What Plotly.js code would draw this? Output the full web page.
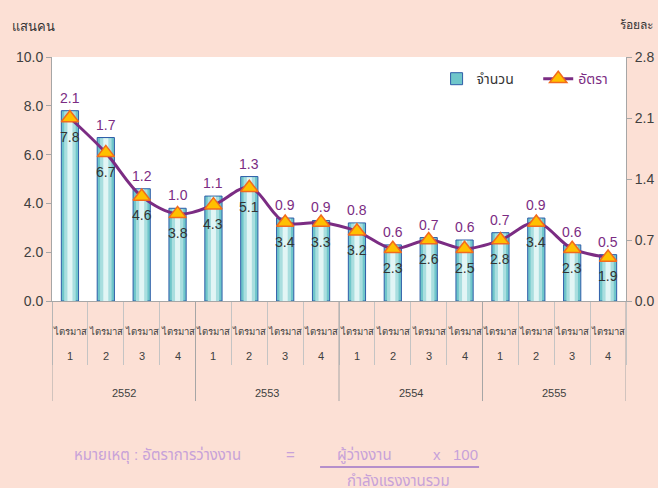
<!DOCTYPE html>
<html>
<head>
<meta charset="utf-8">
<script src="https://cdn.plot.ly/plotly-3.0.1.min.js"></script>
<style>html,body{margin:0;padding:0;background:#FCE0D5;}#chart{width:658px;height:488px;}</style>
</head>
<body>
<div id="chart"></div>
<script>
const years = ['2552', '2553', '2554', '2555'];
const quarters = ['1', '2', '3', '4'];
const quarterWord = 'ไตรมาส';
const unemployed = [7.8, 6.7, 4.6, 3.8, 4.3, 5.1, 3.4, 3.3, 3.2, 2.3, 2.6, 2.5, 2.8, 3.4, 2.3, 1.9];
const rate = [2.1, 1.7, 1.2, 1.0, 1.1, 1.3, 0.9, 0.9, 0.8, 0.6, 0.7, 0.6, 0.7, 0.9, 0.6, 0.5];
const leftTicks = [0, 2, 4, 6, 8, 10];
const rightTicks = [0, 0.7, 1.4, 2.1, 2.8];

const cats = [];
const catYear = [];
const catQuarter = [];
years.forEach(y => quarters.forEach(q => { cats.push(y + '-' + q); catYear.push(y); catQuarter.push(q); }));

const font = 'Tahoma, "Liberation Sans", "Noto Sans Thai", "Noto Sans", sans-serif';
const narrow = '"Liberation Sans Narrow", "Arial Narrow", Tahoma, "Liberation Sans", sans-serif';
const purple = '#7B2C83';

const traces = [
  {type: 'bar', x: cats, y: unemployed, name: 'จำนวน&nbsp;&nbsp;&nbsp;&nbsp;&nbsp;', width: 0.48,
   marker: {color: '#6FC6CA', line: {color: '#2E5DA8', width: 1}}, hoverinfo: 'skip'},
  {type: 'bar', x: cats, y: unemployed.map(v => v - 0.03), showlegend: false, width: 0.32,
   marker: {color: '#A9DEDF'}, hoverinfo: 'skip'},
  {type: 'bar', x: cats, y: unemployed.map(v => v - 0.03), showlegend: false, width: 0.14,
   marker: {color: '#E2F5F5'}, hoverinfo: 'skip'},
  {type: 'scatter', mode: 'lines+markers', x: cats, y: rate, yaxis: 'y2',
   name: '<span style="color:' + purple + '">อัตรา</span>',
   line: {color: purple, width: 3, shape: 'spline', smoothing: 1},
   marker: {symbol: 'triangle-up', size: 15, color: '#FFC000', line: {color: '#F26B1D', width: 1.5}}}
];

const annotations = [];
cats.forEach((c, i) => {
  annotations.push({x: c, y: unemployed[i], xref: 'x', yref: 'y', text: rate[i].toFixed(1),
    showarrow: false, yanchor: 'bottom', yshift: 3, font: {family: font, size: 14, color: purple}});
  annotations.push({x: c, y: rate[i], xref: 'x', yref: 'y2', text: unemployed[i].toFixed(1),
    showarrow: false, yanchor: 'top', yshift: -9, font: {family: font, size: 14, color: '#333333'}});
  annotations.push({x: c, y: -0.127, xref: 'x', yref: 'paper', text: quarterWord,
    showarrow: false, yanchor: 'middle', font: {family: narrow, size: 9.5, color: '#404040'}});
  annotations.push({x: c, y: -0.225, xref: 'x', yref: 'paper', text: catQuarter[i],
    showarrow: false, yanchor: 'middle', font: {family: font, size: 11, color: '#404040'}});
});
const shapes = [];
years.forEach((y, k) => {
  const n = quarters.length;
  annotations.push({x: k * n + (n - 1) / 2, y: -0.377, xref: 'x', yref: 'paper', text: y,
    showarrow: false, yanchor: 'middle', font: {family: font, size: 11, color: '#404040'}});
  shapes.push({type: 'line', xref: 'x', yref: 'paper', x0: k * n - 0.5, x1: k * n - 0.5, y0: 0, y1: -0.41,
    line: {color: '#A6A6A6', width: 1}});
});
shapes.push({type: 'line', xref: 'x', yref: 'paper', x0: cats.length - 0.5, x1: cats.length - 0.5, y0: 0, y1: -0.41,
  line: {color: '#A6A6A6', width: 1}});

const noteColor = '#C7A2D9';
annotations.push(
  {xref: 'paper', yref: 'paper', x: -0.073, y: 1.123, xanchor: 'left', yanchor: 'middle', showarrow: false,
   text: 'แสนคน', font: {family: narrow, size: 13, color: '#333333'}},
  {xref: 'paper', yref: 'paper', x: 1.05, y: 1.131, xanchor: 'right', yanchor: 'middle', showarrow: false,
   text: 'ร้อยละ', font: {family: narrow, size: 12, color: '#333333'}},
  {xref: 'paper', yref: 'paper', x: 0.035, y: -0.631, xanchor: 'left', yanchor: 'middle', showarrow: false,
   text: 'หมายเหตุ : อัตราการว่างงาน', font: {family: font, size: 15, color: noteColor}},
  {xref: 'paper', yref: 'paper', x: 0.415, y: -0.631, xanchor: 'center', yanchor: 'middle', showarrow: false,
   text: '=', font: {family: font, size: 15, color: noteColor}},
  {xref: 'paper', yref: 'paper', x: 0.545, y: -0.631, xanchor: 'center', yanchor: 'middle', showarrow: false,
   text: 'ผู้ว่างงาน', font: {family: font, size: 15, color: noteColor}},
  {xref: 'paper', yref: 'paper', x: 0.671, y: -0.631, xanchor: 'center', yanchor: 'middle', showarrow: false,
   text: 'x', font: {family: font, size: 15, color: noteColor}},
  {xref: 'paper', yref: 'paper', x: 0.72, y: -0.631, xanchor: 'center', yanchor: 'middle', showarrow: false,
   text: '100', font: {family: font, size: 15, color: noteColor}},
  {xref: 'paper', yref: 'paper', x: 0.603, y: -0.736, xanchor: 'center', yanchor: 'middle', showarrow: false,
   text: 'กำลังแรงงานรวม', font: {family: font, size: 15, color: noteColor}}
);
shapes.push({type: 'line', xref: 'paper', yref: 'paper', x0: 0.467, x1: 0.744, y0: -0.68, y1: -0.68,
  line: {color: '#B58FCB', width: 2}});

const layout = {
  width: 658, height: 488,
  margin: {l: 52, r: 32, t: 57, b: 187, pad: 0},
  paper_bgcolor: '#FCE0D5', plot_bgcolor: '#FFFFFF',
  barmode: 'overlay', showlegend: true,
  font: {family: font, color: '#404040'},
  legend: {orientation: 'h', x: 0.67, y: 0.975, xanchor: 'left', yanchor: 'top', bgcolor: 'rgba(0,0,0,0)',
    font: {family: font, size: 14, color: '#333333'}, traceorder: 'normal'},
  xaxis: {type: 'category', categoryorder: 'array', categoryarray: cats, range: [-0.5, cats.length - 0.5],
    tickvals: cats, tickson: 'boundaries', showticklabels: false,
    ticks: 'outside', ticklen: 63, tickcolor: '#C4C4C4', tickwidth: 1,
    showline: true, linecolor: '#A6A6A6', linewidth: 1, showgrid: false, zeroline: false, fixedrange: true},
  yaxis: {range: [0, 10], tickvals: leftTicks, tickformat: '.1f', ticks: 'outside', ticklen: 5, tickcolor: '#A6A6A6',
    showline: true, linecolor: '#A6A6A6', linewidth: 1, showgrid: false, zeroline: false,
    tickfont: {family: font, size: 14, color: '#404040'}},
  yaxis2: {range: [0, 2.8], tickvals: rightTicks, tickformat: '.1f', overlaying: 'y', side: 'right',
    ticks: 'outside', ticklen: 5, tickcolor: '#A6A6A6', showline: true, linecolor: '#A6A6A6', linewidth: 1,
    showgrid: false, zeroline: false, tickfont: {family: font, size: 14, color: '#404040'}},
  annotations: annotations, shapes: shapes
};

Plotly.newPlot('chart', traces, layout, {displayModeBar: false, staticPlot: true});
</script>
</body>
</html>
